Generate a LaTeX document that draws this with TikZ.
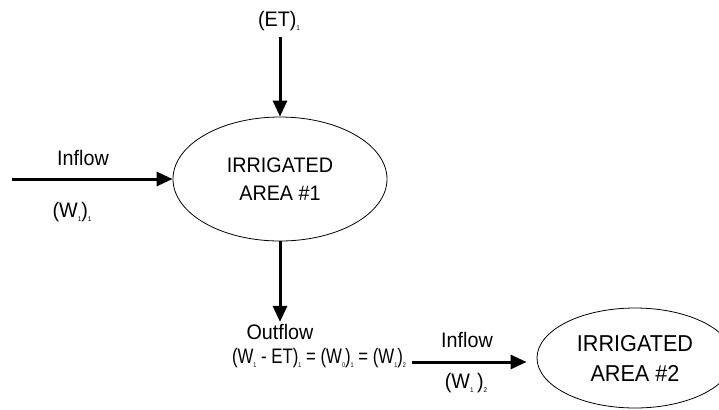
\documentclass[tikz,border=0pt]{standalone}
\usepackage{fontspec}
\setmainfont[FakeStretch=0.94]{Liberation Sans}
\newfontfamily\narrowfont[FakeStretch=0.8]{Liberation Sans}
\usetikzlibrary{shapes.geometric,arrows.meta}

\newcommand{\lowsub}[1]{\raisebox{-2pt}{\fontsize{3.4}{3.4}\selectfont #1}}

\tikzset{
  area/.style={draw, ellipse, thin, inner sep=0pt, align=center,
    minimum width=107pt, minimum height=62pt, font=\fontsize{10.5}{14}\selectfont},
  lbl/.style={inner sep=1pt, font=\fontsize{10.5}{12}\selectfont},
  flow/.style={line width=1.5pt, -{Triangle[length=8pt,width=7pt]}}
}

\begin{document}
\begin{tikzpicture}[x=0.5pt,y=-0.5pt]
  \useasboundingbox (0,0) rectangle (719,409);

  % the two areas
  \node[area] (area1) at (280,179) {IRRIGATED\\AREA \#1};
  \node[area, minimum width=98pt, minimum height=50pt,
    font=\fontsize{11.5}{15}\selectfont] (area2) at (635,358) {IRRIGATED\\AREA \#2};

  % labels
  \node[lbl] (et) at (279,21) {(ET)\lowsub{1}};
  \node[lbl] (inflow1) at (83,158) {Inflow};
  \node[lbl] (win1) at (72,212) {(W\lowsub{1})\lowsub{1}};
  \node[lbl] (outflow) at (280,332) {Outflow};
  \node[lbl, font=\fontsize{10.5}{12}\narrowfont] (balance) at (319,358)
    {(W\lowsub{1} - ET)\lowsub{1} = (W\lowsub{0})\lowsub{1} = (W\lowsub{1})\lowsub{2}};
  \node[lbl] (inflow2) at (467,340) {Inflow};
  \node[lbl] (win2) at (466,383) {(W\lowsub{1}\,)\lowsub{2}};

  \coordinate (src) at (12,179);
  \coordinate (etfoot) at (280,37);

  % flows
  \draw[flow] (etfoot) -- (area1.north);
  \draw[flow] (src) -- (area1.west);
  \draw[flow] (area1.south) -- (outflow.north);
  \draw[flow, shorten <=2pt, shorten >=5pt] (balance.east |- 0,362) -- (area2.west |- 0,362);
\end{tikzpicture}
\end{document}
